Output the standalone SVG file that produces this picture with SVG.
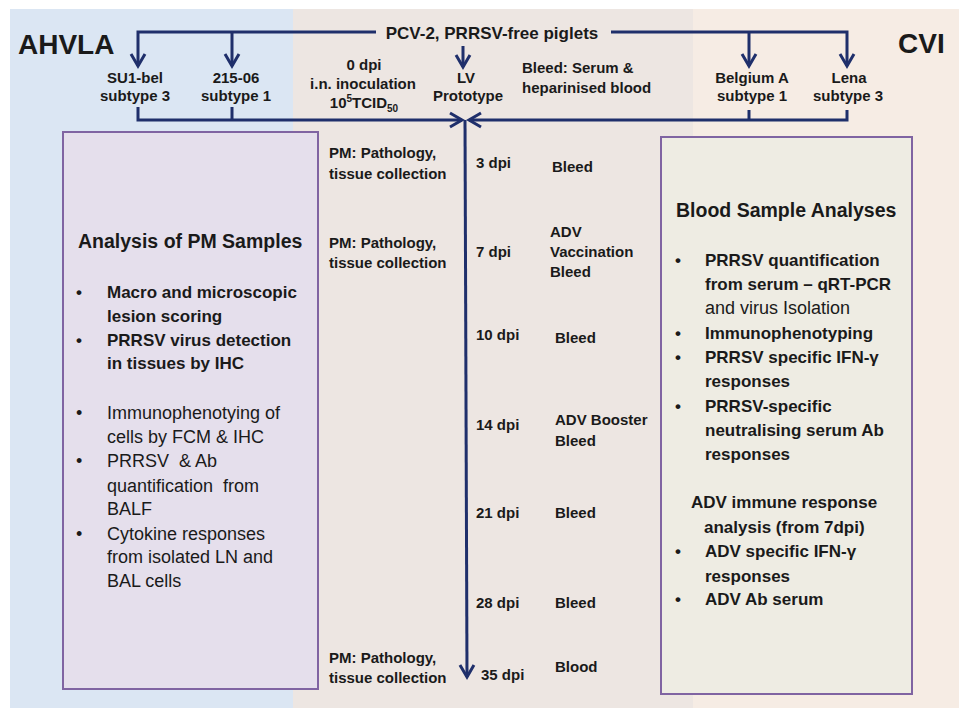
<svg xmlns="http://www.w3.org/2000/svg" width="959" height="708" viewBox="0 0 959 708">
<defs>
<style>
text{font-family:"Liberation Sans",Arial,sans-serif;fill:#1a1a1a;}
.b{font-weight:bold;}
.lab{font-size:15px;font-weight:bold;}
.mid{text-anchor:middle;}
.big{font-size:28px;font-weight:bold;}
.ttl{font-size:19.5px;font-weight:bold;}
.bb{font-size:17px;font-weight:bold;}
.rg{font-size:18px;}
.conn{fill:none;stroke:#1f2f6b;stroke-width:3;}
.box{stroke:#8064a2;stroke-width:2;}
</style>
<marker id="ah" markerUnits="userSpaceOnUse" markerWidth="30" markerHeight="30" viewBox="-15 -15 30 30" refX="0" refY="0" orient="auto" overflow="visible">
<path d="M-12,-7 L0,0 L-12,7" fill="none" stroke="#1f2f6b" stroke-width="3"/>
</marker>
</defs>
<rect x="0" y="0" width="959" height="708" fill="#ffffff"/>
<rect x="10" y="9" width="283" height="699" fill="#dbe6f3"/>
<rect x="293" y="9" width="400" height="699" fill="#ede6e2"/>
<rect x="693" y="9" width="266" height="699" fill="#f6ece4"/>

<g id="header">
<text class="big" x="18" y="54">AHVLA</text>
<text class="big" x="898" y="53">CVI</text>
<text class="mid" x="492" y="39" style="font-size:17px;font-weight:bold">PCV-2, PRRSV-free piglets</text>
</g>

<g id="connectors">
<path class="conn" d="M376,32 H138 V66" marker-end="url(#ah)"/>
<path class="conn" d="M232,32 V66" marker-end="url(#ah)"/>
<path class="conn" d="M611,32 H847 V66" marker-end="url(#ah)"/>
<path class="conn" d="M749,32 V66" marker-end="url(#ah)"/>
<path class="conn" d="M463,46 V67" marker-end="url(#ah)"/>
<path class="conn" d="M138,107 V120 H462" marker-end="url(#ah)"/>
<path class="conn" d="M232,107 V120"/>
<path class="conn" d="M847,110 V120 H469" marker-end="url(#ah)"/>
<path class="conn" d="M749,110 V120"/>
<path class="conn" d="M465,120 L467,677" marker-end="url(#ah)"/>
</g>

<g id="su1bel"><text class="lab mid" x="135" y="83">SU1-bel</text><text class="lab mid" x="135" y="101">subtype 3</text></g>
<g id="s21506"><text class="lab mid" x="236" y="83">215-06</text><text class="lab mid" x="236" y="101">subtype 1</text></g>
<g id="dpi0"><text class="lab mid" x="364" y="70">0 dpi</text><text class="lab mid" x="363" y="89">i.n. inoculation</text><text class="lab mid" x="364" y="108">10<tspan dy="-6" style="font-size:10px">5</tspan><tspan dy="6">TCID</tspan><tspan dy="4" style="font-size:10px">50</tspan></text></g>
<g id="lv"><text class="lab mid" x="466" y="83">LV</text><text class="lab mid" x="468" y="101">Prototype</text></g>
<g id="bleed0"><text class="lab" x="522" y="73">Bleed: Serum &amp;</text><text class="lab" x="522" y="93">heparinised blood</text></g>
<g id="belgium"><text class="lab mid" x="752" y="83">Belgium A</text><text class="lab mid" x="752" y="101">subtype 1</text></g>
<g id="lena"><text class="lab mid" x="849" y="83">Lena</text><text class="lab mid" x="848" y="101">subtype 3</text></g>

<g id="pm-box">
<rect class="box" x="63" y="132" width="255" height="557" fill="#e5dfec"/>
<text class="ttl" x="78" y="248">Analysis of PM Samples</text>
<text class="bb" x="76" y="298">•</text>
<text class="bb" x="107" y="298">Macro and microscopic</text>
<text class="bb" x="107" y="322">lesion scoring</text>
<text class="bb" x="76" y="346">•</text>
<text class="bb" x="107" y="346">PRRSV virus detection</text>
<text class="bb" x="107" y="369">in tissues by IHC</text>
<text class="rg" x="76" y="419">•</text>
<text class="rg" x="107" y="419">Immunophenotying of</text>
<text class="rg" x="107" y="443">cells by FCM &amp; IHC</text>
<text class="rg" x="76" y="467">•</text>
<text class="rg" x="107" y="467" xml:space="preserve">PRRSV  &amp; Ab</text>
<text class="rg" x="107" y="492" xml:space="preserve">quantification  from</text>
<text class="rg" x="107" y="515">BALF</text>
<text class="rg" x="76" y="540">•</text>
<text class="rg" x="107" y="540">Cytokine responses</text>
<text class="rg" x="107" y="563">from isolated LN and</text>
<text class="rg" x="107" y="587">BAL cells</text>
</g>

<g id="blood-box">
<rect class="box" x="661" y="137" width="251" height="557" fill="#eeece3"/>
<text class="ttl" x="676" y="217">Blood Sample Analyses</text>
<text class="bb" x="675" y="266">•</text>
<text class="bb" x="705" y="266">PRRSV quantification</text>
<text class="bb" x="705" y="290">from serum – qRT-PCR</text>
<text class="rg" x="705" y="314">and virus Isolation</text>
<text class="bb" x="675" y="339">•</text>
<text class="bb" x="705" y="339">Immunophenotyping</text>
<text class="bb" x="675" y="363">•</text>
<text class="bb" x="705" y="363">PRRSV specific IFN-γ</text>
<text class="bb" x="705" y="387">responses</text>
<text class="bb" x="675" y="412">•</text>
<text class="bb" x="705" y="412">PRRSV-specific</text>
<text class="bb" x="705" y="436">neutralising serum Ab</text>
<text class="bb" x="705" y="460">responses</text>
<text class="bb" x="691" y="508">ADV immune response</text>
<text class="bb" x="704" y="533">analysis (from 7dpi)</text>
<text class="bb" x="675" y="557">•</text>
<text class="bb" x="705" y="557">ADV specific IFN-γ</text>
<text class="bb" x="705" y="582">responses</text>
<text class="bb" x="675" y="605">•</text>
<text class="bb" x="705" y="605">ADV Ab serum</text>
</g>

<g id="pm1"><text class="lab" x="329" y="158">PM: Pathology,</text><text class="lab" x="329" y="179">tissue collection</text></g>
<g id="pm2"><text class="lab" x="329" y="248">PM: Pathology,</text><text class="lab" x="329" y="268">tissue collection</text></g>
<g id="pm3"><text class="lab" x="329" y="663">PM: Pathology,</text><text class="lab" x="329" y="683">tissue collection</text></g>

<g id="d3"><text class="lab" x="476" y="168">3 dpi</text><text class="lab" x="552" y="172">Bleed</text></g>
<g id="d7"><text class="lab" x="476" y="257">7 dpi</text><text class="lab" x="550" y="237">ADV</text><text class="lab" x="550" y="257">Vaccination</text><text class="lab" x="550" y="277">Bleed</text></g>
<g id="d10"><text class="lab" x="476" y="340">10 dpi</text><text class="lab" x="555" y="343">Bleed</text></g>
<g id="d14"><text class="lab" x="476" y="430">14 dpi</text><text class="lab" x="555" y="425">ADV Booster</text><text class="lab" x="555" y="446">Bleed</text></g>
<g id="d21"><text class="lab" x="476" y="518">21 dpi</text><text class="lab" x="555" y="518">Bleed</text></g>
<g id="d28"><text class="lab" x="476" y="608">28 dpi</text><text class="lab" x="555" y="608">Bleed</text></g>
<g id="d35"><text class="lab" x="481" y="680">35 dpi</text><text class="lab" x="555" y="672">Blood</text></g>
</svg>
